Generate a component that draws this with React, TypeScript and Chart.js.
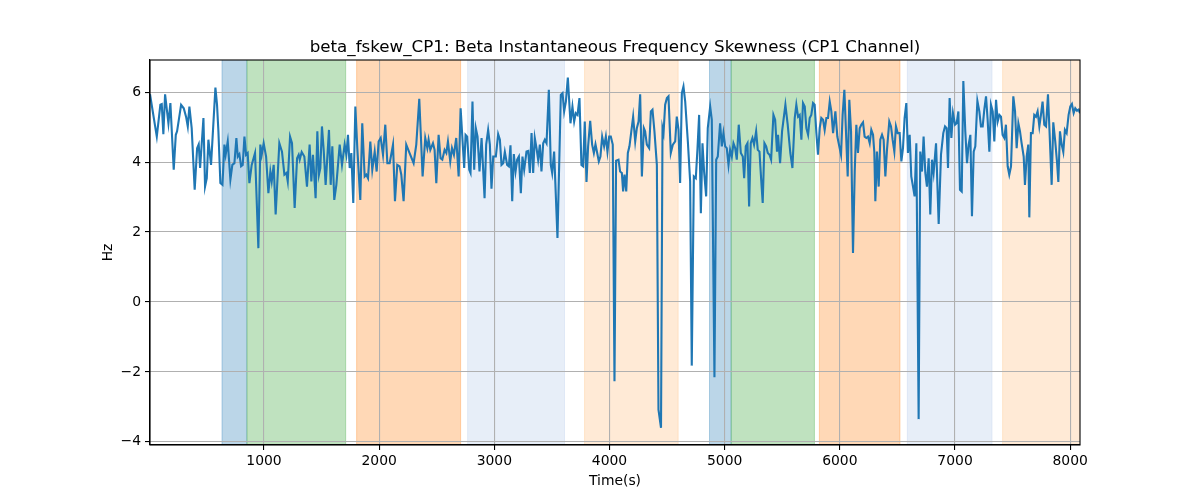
import React, { useEffect, useRef } from 'react';
import { Chart, registerables } from 'chart.js';

Chart.register(...registerables);

// time (s) and value (Hz)
const times = [
  10, 69, 100, 112, 126, 141, 170, 187, 216, 234, 245, 280, 303, 323, 338, 352, 372, 398, 419, 433,
  445, 474, 488, 503, 517, 540, 578, 592, 604, 621, 639, 656, 667, 685, 708, 725, 743, 760, 772, 786,
  801, 815, 830, 844, 858, 873, 893, 922, 951, 968, 980, 997, 1018, 1038, 1055, 1067, 1084, 1101, 1133, 1156,
  1177, 1194, 1206, 1226, 1243, 1266, 1287, 1301, 1310, 1327, 1350, 1373,
  1396, 1411, 1425, 1448, 1463, 1477, 1489, 1503, 1518, 1535, 1564, 1579, 1593, 1610, 1628, 1657, 1677, 1700,
  1715, 1729, 1744, 1758, 1775, 1793, 1810, 1836, 1853, 1874, 1888, 1903, 1923, 1940, 1961, 1978, 1995, 2013,
  2033, 2053, 2071, 2091, 2120, 2137, 2157, 2177, 2192, 2212, 2235, 2264, 2299, 2322, 2348, 2377, 2400, 2418,
  2429, 2444, 2467, 2481, 2496, 2516, 2533, 2548, 2568, 2583, 2597, 2617, 2632, 2649, 2669, 2690, 2707,
  2738, 2750, 2764, 2782, 2793, 2810, 2825, 2839, 2854, 2871, 2889, 2915, 2929, 2946, 2961, 2975, 2990, 3013,
  3033, 3048, 3062, 3077, 3091, 3111, 3126, 3140, 3155, 3169, 3184, 3198, 3213, 3230, 3244, 3259, 3279, 3294,
  3308, 3323, 3337, 3351, 3366, 3380, 3395, 3409, 3424, 3438, 3453, 3473, 3490, 3502, 3519, 3548, 3577, 3592,
  3606, 3621, 3638, 3661, 3678, 3693, 3707, 3722, 3739, 3756, 3771, 3785, 3800, 3814, 3832, 3849, 3864, 3878,
  3893, 3907, 3921, 3936, 3953, 3968, 3982, 3997, 4011, 4028, 4043, 4057,
  4078, 4092, 4107, 4118, 4130, 4145, 4159, 4173, 4205, 4223, 4237, 4252, 4266, 4281, 4298, 4309, 4324, 4344,
  4359, 4373, 4390, 4411, 4425, 4447, 4460, 4469, 4483, 4498, 4512, 4532, 4550, 4570, 4584, 4599, 4613, 4628,
  4642, 4657, 4680, 4700, 4714, 4732, 4749, 4764, 4778, 4793, 4807, 4821, 4839, 4853, 4874, 4888, 4911, 4926,
  4940, 4960, 4975, 4989, 5004, 5018, 5033, 5047, 5062, 5076, 5091, 5105, 5122, 5140, 5157, 5169, 5183, 5198,
  5212, 5226, 5241, 5255, 5273, 5287, 5302, 5316, 5330, 5345, 5360, 5374, 5389, 5403, 5423, 5438,
  5454, 5463, 5481, 5498, 5527, 5547, 5570, 5588, 5608, 5622, 5637, 5651, 5666, 5680, 5695, 5709, 5724, 5738,
  5752, 5767, 5781, 5796, 5810, 5825, 5839, 5854, 5868, 5883, 5897, 5912, 5926, 5941, 5961, 5978, 5995, 6010,
  6024, 6039, 6053, 6068, 6082, 6097, 6114, 6129, 6143, 6157, 6172, 6186, 6201, 6215, 6230, 6244, 6259, 6273,
  6288, 6299, 6308, 6322, 6337, 6351, 6366, 6380, 6395, 6409, 6429, 6444, 6458, 6473, 6487, 6502, 6519, 6534,
  6548, 6562, 6577, 6591, 6606, 6620, 6635, 6649, 6664, 6684, 6698, 6713, 6727, 6742, 6756, 6771, 6785, 6800,
  6814,
  6835, 6858, 6878, 6898, 6913, 6927, 6939, 6953, 6968, 6982, 7000, 7014, 7029, 7043, 7058, 7072, 7089, 7104,
  7118, 7133, 7147, 7162, 7176, 7194, 7211, 7225, 7240, 7254, 7269, 7283, 7298, 7312, 7327, 7341, 7356, 7370,
  7385, 7399, 7413, 7428, 7442, 7457, 7471, 7486, 7506, 7521, 7535, 7550, 7564, 7578, 7596, 7607, 7622, 7636,
  7645, 7659, 7674, 7688, 7703, 7717, 7732, 7746, 7760, 7775, 7790, 7807, 7821, 7839, 7853, 7870, 7885, 7897,
  7911, 7926, 7940, 7954, 7969, 7986, 8001, 8015, 8030, 8044, 8059, 8073, 8085,
];

const hz = [
  5.94, 4.73, 5.64, 5.66, 4.8, 5.94, 5.11, 5.69, 3.78, 4.78, 4.88, 5.64, 5.54, 5.3, 5.02, 5.59, 4.97, 3.21, 4.4, 4.51,
  3.83, 5.26, 3.3, 3.54, 4.64, 3.92, 6.13, 5.64, 4.88, 3.4, 3.35, 4.5, 4.21, 4.59, 3.5, 3.92, 3.97, 4.69, 4.16, 4.23,
  3.88, 3.92, 4.73, 4.21, 4.26, 3.4, 3.92, 4.26, 1.54, 4.5, 4.21, 4.54, 4.16, 3.11, 3.73, 3.45, 3.92, 2.5, 4.54, 4.3,
  3.64, 3.69, 3.45, 4.73, 4.54, 2.69, 4.11, 4.21, 4.07, 4.29, 4.16, 3.3,
  4.5, 3.45, 4.21, 2.97, 4.88, 3.64, 3.83, 5.02, 4.35, 3.35, 4.92, 3.35, 4.45, 2.92, 3.35, 4.5, 3.92, 4.5,
  4.21, 4.78, 3.83, 4.26, 2.83, 5.59, 4.4, 2.92, 5.11, 3.59, 3.64, 3.54, 4.59, 3.78, 4.3, 3.73, 4.59, 4.69,
  4.21, 5.07, 3.97, 3.97, 4.5, 2.88, 3.92, 3.88, 3.64, 2.88, 4.5, 4.26, 3.97, 4.5, 5.81, 3.59, 4.69, 4.4,
  4.64, 4.35, 4.54, 4.35, 3.4, 4.78, 4.11, 4.07, 4.35, 4.26, 4.59, 4.02, 4.4, 4.21, 4.69, 3.59, 5.54,
  3.83, 4.78, 4.73, 3.78, 3.69, 5.73, 3.78, 4.97, 4.73, 3.73, 4.69, 2.97, 4.5, 4.92, 4.5, 3.24, 4.16, 4.16,
  4.8, 4.64, 3.92, 3.97, 4.29, 3.92, 3.88, 4.48, 2.88, 4.23, 3.73, 4.07, 4.16, 3.11, 4.16, 3.78, 4.3, 4.32,
  3.69, 4.83, 3.69, 4.69, 4.4, 4.07, 4.5, 3.73, 4.54, 4.64, 4.54, 6.07, 3.92, 3.69, 4.3, 1.83, 5.92, 5.97,
  5.45, 5.73, 6.42, 5.11, 5.59, 5.16, 5.4, 5.35, 5.83, 3.92, 3.88, 5.16, 3.43, 4.45, 5.18, 4.5, 4.26, 4.51,
  4.26, 4.02, 4.16, 4.73, 4.45, 4.73, 4.3, 4.73, 4.73, 4.5, -2.27, 4.04,
  4.07, 3.73, 3.69, 3.16, 3.64, 3.16, 4.26, 4.45, 5.3, 4.59, 4.97, 5.16, 5.94, 3.59, 4.97, 4.88, 4.5, 4.4,
  5.45, 5.5, 4.88, 3.92, -3.08, -3.6, 4.97, 4.83, 5.64, 5.83, 5.88, 4.26, 4.5, 4.59, 5.3, 4.92, 3.4, 5.97,
  6.16, 5.73, 4.59, 3.45, -1.82, 3.59, 3.54, 4.4, 5.35, 2.54, 4.54, 3.73, 3.02, 4.97, 5.59, 5.21, -2.15, 4.07,
  4.16, 5.11, 4.45, 4.83, 4.45, 4.4, 3.92, 4.35, 4.16, 4.54, 4.4, 4.07, 5.07, 4.26, 4.16, 3.54, 4.45, 4.54,
  2.73, 4.54, 4.69, 4.5, 4.88, 4.35, 4.3, 3.54, 2.83, 4.54, 4.45, 4.26, 4.21, 4.07, 5.35, 5.21,
  4.3, 4.78, 3.97, 4.88, 5.64, 5.07, 4.26, 3.83, 5.26, 5.64, 5.3, 5.35, 4.64, 5.69, 5.59, 4.97, 4.78, 5.26,
  5.35, 5.69, 5.64, 4.83, 4.21, 4.97, 5.26, 5.21, 4.92, 5.26, 5.26, 5.73, 5.45, 4.83, 5.45, 4.73, 4.45, 4.21,
  5.35, 6.07, 4.88, 3.59, 5.78, 4.88, 1.4, 3.73, 5.07, 4.26, 4.97, 5.07, 5.14, 4.73, 4.69, 4.73, 4.54, 4.92,
  4.78, 4.29, 2.88, 4.3, 3.3, 4.64, 4.78, 4.64, 3.59, 4.35, 5.16, 5.02, 4.64, 4.3, 5.02, 4.83, 4.83, 4.02,
  4.4, 5.26, 5.69, 4.26, 4.78, 3.59, 3.3, 3.02, 4.54, -3.35, 4.3, 3.73, 4.73, 3.69, 3.3, 4.11, 2.5, 4.07,
  3.69,
  4.54, 2.23, 4.21, 4.83, 5.02, 4.97, 3.83, 5.83, 4.69, 5.4, 5.07, 5.11, 5.45, 3.21, 3.16, 6.32, 4.88, 3.97,
  4.5, 4.78, 2.45, 4.3, 4.45, 5.75, 5.45, 5.02, 5.02, 5.5, 5.88, 5.21, 4.3, 5.64, 5.45, 4.59, 5.78, 5.16,
  5.35, 5.3, 4.78, 4.69, 5.07, 3.88, 3.64, 3.88, 5.88, 5.45, 4.4, 5.11, 4.88, 4.54, 4.16, 3.35, 4.16, 4.5,
  2.42, 4.83, 4.83, 5.35, 5.3, 5.45, 5.02, 5.35, 5.73, 5.07, 5.02, 5.94, 4.83, 3.35, 5.14, 4.59, 4.02, 3.43,
  4.88, 4.5, 4.29, 4.92, 4.83, 5.35, 5.59, 5.66, 5.4, 5.54, 5.47, 5.5, 5.4,
];

const xTicks = [1000, 2000, 3000, 4000, 5000, 6000, 7000, 8000];
const yTicks = [-4, -2, 0, 2, 4, 6];

// shaded intervals
const spanStarts = [635, 852, 1804, 2768, 3783, 4868, 5056, 5822, 6586, 7413];
const spanEnds = [850, 1709, 2707, 3609, 4596, 5056, 5779, 6522, 7321, 8100];
const spanColors = [
  'rgba(31,119,180,0.3)',
  'rgba(44,160,44,0.3)',
  'rgba(255,127,14,0.3)',
  'rgba(174,199,232,0.3)',
  'rgba(255,187,120,0.3)',
  'rgba(31,119,180,0.3)',
  'rgba(44,160,44,0.3)',
  'rgba(255,127,14,0.3)',
  'rgba(174,199,232,0.3)',
  'rgba(255,187,120,0.3)',
];

const FONT = "'DejaVu Sans', sans-serif";
const TITLE = 'beta_fskew_CP1: Beta Instantaneous Frequency Skewness (CP1 Channel)';

const spansPlugin = {
  id: 'spans',
  beforeDraw(chart: Chart) {
    const { ctx, chartArea, scales } = chart;
    ctx.save();
    ctx.beginPath();
    ctx.rect(chartArea.left, chartArea.top, chartArea.right - chartArea.left, chartArea.bottom - chartArea.top);
    ctx.clip();
    spanStarts.forEach((s, i) => {
      const x0 = scales.x.getPixelForValue(s);
      const x1 = scales.x.getPixelForValue(spanEnds[i]);
      ctx.fillStyle = spanColors[i];
      ctx.fillRect(x0, chartArea.top, x1 - x0, chartArea.bottom - chartArea.top);
      ctx.strokeStyle = spanColors[i];
      ctx.lineWidth = 1;
      ctx.strokeRect(x0, chartArea.top - 2, x1 - x0, chartArea.bottom - chartArea.top + 4);
    });
    ctx.restore();
  },
};

const framePlugin = {
  id: 'frame',
  afterDatasetsDraw(chart: Chart) {
    const { ctx, chartArea } = chart;
    ctx.save();
    ctx.strokeStyle = '#000';
    ctx.lineWidth = 1.1;
    ctx.strokeRect(chartArea.left, chartArea.top, chartArea.right - chartArea.left, chartArea.bottom - chartArea.top);
    ctx.restore();
  },
  afterDraw(chart: Chart) {
    const { ctx, chartArea } = chart;
    const cx = (chartArea.left + chartArea.right) / 2;
    const cy = (chartArea.top + chartArea.bottom) / 2;
    ctx.save();
    ctx.fillStyle = '#000';
    ctx.textAlign = 'center';
    ctx.textBaseline = 'alphabetic';
    ctx.font = `16.7px ${FONT}`;
    ctx.fillText(TITLE, cx, chartArea.top - 8.5);
    ctx.font = `13.9px ${FONT}`;
    ctx.textBaseline = 'middle';
    ctx.fillText('Time(s)', cx, 481);
    ctx.translate(108, cy);
    ctx.rotate(-Math.PI / 2);
    ctx.fillText('Hz', 0, 0);
    ctx.restore();
  },
};

export default function App() {
  const canvasRef = useRef<HTMLCanvasElement | null>(null);
  const chartRef = useRef<Chart | null>(null);

  useEffect(() => {
    const canvas = canvasRef.current;
    if (!canvas) return;

    chartRef.current = new Chart(canvas, {
      type: 'line',
      data: {
        datasets: [
          {
            label: 'beta_fskew_CP1',
            data: times.map((t, i) => ({ x: t, y: hz[i] })),
            borderColor: '#1f77b4',
            borderWidth: 2.1,
            pointRadius: 0,
            tension: 0,
            fill: false,
          },
        ],
      },
      options: {
        responsive: false,
        animation: false,
        layout: { padding: { top: 60, right: 120, bottom: 0, left: 0 } },
        plugins: {
          legend: { display: false },
          tooltip: { enabled: false },
          title: { display: false },
        },
        scales: {
          x: {
            type: 'linear',
            min: 10,
            max: 8085,
            afterBuildTicks: (s: any) => {
              s.ticks = xTicks.map((v) => ({ value: v }));
            },
            afterFit: (s: any) => {
              s.height = 55;
            },
            grid: { color: '#b0b0b0', lineWidth: 1.1, tickColor: '#000', tickLength: 5 },
            border: { color: '#000', width: 1.1 },
            ticks: {
              color: '#000',
              font: { family: FONT, size: 13.9 },
              padding: 3,
              maxRotation: 0,
              autoSkip: false,
              callback: (v: any) => String(v),
            },
          },
          y: {
            type: 'linear',
            min: -4.09,
            max: 6.92,
            afterBuildTicks: (s: any) => {
              s.ticks = yTicks.map((v) => ({ value: v }));
            },
            afterFit: (s: any) => {
              s.width = 150;
            },
            grid: { color: '#b0b0b0', lineWidth: 1.1, tickColor: '#000', tickLength: 5 },
            border: { color: '#000', width: 1.1 },
            ticks: {
              color: '#000',
              font: { family: FONT, size: 13.9 },
              padding: 4,
              autoSkip: false,
              callback: (v: any) => (v < 0 ? '\u2212' + Math.abs(v) : String(v)),
            },
          },
        },
      },
      plugins: [spansPlugin, framePlugin],
    });

    return () => {
      chartRef.current?.destroy();
      chartRef.current = null;
    };
  }, []);

  return (
    <div style={{ position: 'fixed', left: 0, top: 0, width: 1200, height: 500, background: '#fff' }}>
      <canvas ref={canvasRef} width={1200} height={500} />
    </div>
  );
}
